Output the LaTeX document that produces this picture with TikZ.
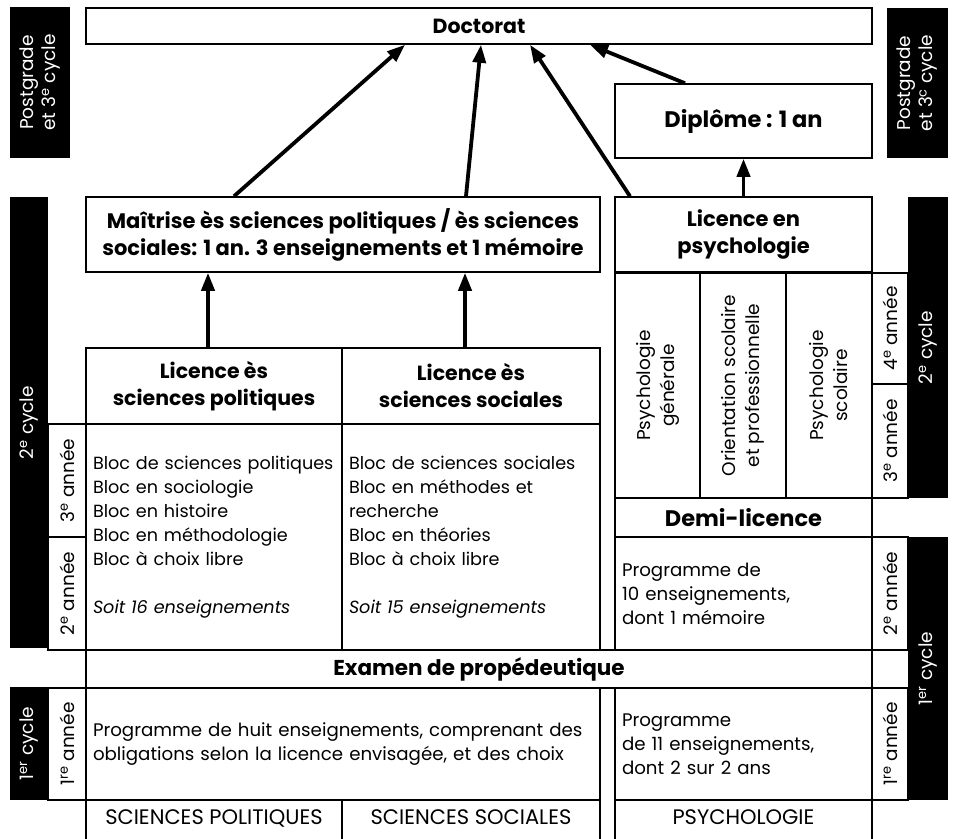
\documentclass[tikz,border=0pt]{standalone}
\usepackage{fontspec}
\setmainfont{Poppins}
\usetikzlibrary{arrows.meta}
\begin{document}
\begin{tikzpicture}[x=1pt,y=-1pt,
  box/.style={draw, line width=1.5pt, inner sep=0pt, align=center},
  txt/.style={font=\fontsize{18.2}{24}\selectfont},
  head/.style={font=\fontsize{21}{27}\selectfont\bfseries},
  lbox/.style={box, txt, align=left, inner xsep=7pt},
  capbox/.style={box, font=\fontsize{21}{24}\selectfont, minimum height=46pt, text height=14pt, text depth=11pt},
  bbar/.style={fill=black, text=white, inner sep=0pt, align=center, font=\fontsize{18.5}{22}\selectfont},
  yr/.style={box, font=\fontsize{18.5}{24}\selectfont, rotate=90},
  arr/.style={line width=3.8pt, -{Triangle[length=18pt,width=13pt]}}
]
\useasboundingbox (0,0) rectangle (955,838);
% top
\node[box, font=\fontsize{20.5}{24}\selectfont\bfseries, minimum width=786pt, minimum height=36pt] (doc) at (479,26) {Doctorat};
\node[box, font=\fontsize{22.5}{27}\selectfont\bfseries, minimum width=257pt, minimum height=74pt] (dipl) at (743.5,121) {Diplôme : 1 an};
\node[bbar, rotate=90, minimum width=151pt, minimum height=60pt] (lpost) at (40,82.5) {Postgrade\\et 3\textsuperscript{e} cycle};
\node[bbar, rotate=90, minimum width=150pt, minimum height=61pt] (rpost) at (917.5,83) {Postgrade\\et 3\textsuperscript{c} cycle};
% second level
\node[box, head, minimum width=514pt, minimum height=75pt] (mait) at (343,234.5) {Maîtrise ès sciences politiques / ès sciences\\sociales: 1 an. 3 enseignements et 1 mémoire};
\node[box, head, minimum width=257pt, minimum height=75pt] (lpsy) at (743.5,234.5) {Licence en\\psychologie};
% licences
\node[box, font=\fontsize{20.5}{27}\selectfont\bfseries, minimum width=256pt, minimum height=76pt] (lsp) at (214,386) {Licence ès\\sciences politiques};
\node[box, font=\fontsize{20.5}{27}\selectfont\bfseries, minimum width=258pt, minimum height=76pt] (lss) at (471,386) {Licence ès\\sciences sociales};
\node[lbox, font=\fontsize{17.6}{24}\selectfont, text width=242pt, minimum height=226pt] (bsp) at (214,537) {\mbox{Bloc de sciences politiques}\\Bloc en sociologie\\Bloc en histoire\\Bloc en méthodologie\\Bloc à choix libre\\[24pt]\textit{Soit 16 enseignements}};
\node[lbox, font=\fontsize{17.6}{24}\selectfont, text width=244pt, minimum height=226pt] (bss) at (471,537) {Bloc de sciences sociales\\Bloc en méthodes et\\recherche\\Bloc en théories\\Bloc à choix libre\\[24pt]\textit{Soit 15 enseignements}};
% psychology columns
\node[yr, minimum width=225pt, minimum height=85pt] (pgen) at (657.5,385.5) {Psychologie\\générale};
\node[yr, minimum width=225pt, minimum height=86pt] (porient) at (743,385.5) {Orientation scolaire\\et professionnelle};
\node[yr, minimum width=225pt, minimum height=86pt] (pscol) at (829,385.5) {Psychologie\\scolaire};
\node[box, font=\fontsize{22.5}{27}\selectfont\bfseries, minimum width=257pt, minimum height=39pt] (demi) at (743.5,517.5) {Demi-licence};
\node[lbox, text width=243pt, minimum height=113pt] (p10) at (743.5,593.5) {Programme de\\10 enseignements,\\dont 1 mémoire};
% examen
\node[box, font=\fontsize{21.5}{27}\selectfont\bfseries, minimum width=786pt, minimum height=38pt] (exam) at (479,669) {Examen de propédeutique};
\node[lbox, text width=500pt, minimum height=112pt] (huit) at (343,744) {Programme de huit enseignements, comprenant des\\obligations selon la licence envisagée, et des choix};
\node[lbox, text width=243pt, minimum height=112pt] (p11) at (743.5,744) {Programme\\de 11 enseignements,\\dont 2 sur 2 ans};
% bottom row
\node[capbox, minimum width=256pt] (sp) at (214,823) {SCIENCES POLITIQUES};
\node[capbox, minimum width=258pt] (ss) at (471,823) {SCIENCES SOCIALES};
\node[capbox, minimum width=257pt] (psy) at (743.5,823) {PSYCHOLOGIE};
% left year labels
\node[bbar, rotate=90, minimum width=451pt, minimum height=38pt] (l2c) at (29,422.5) {2\textsuperscript{e} cycle};
\node[bbar, rotate=90, minimum width=113pt, minimum height=38pt] (l1c) at (29,743.5) {1\textsuperscript{er} cycle};
\node[yr, minimum width=113pt, minimum height=38pt] (l3) at (67,480.5) {3\textsuperscript{e} année};
\node[yr, minimum width=113pt, minimum height=38pt] (l2) at (67,593.5) {2\textsuperscript{e} année};
\node[yr, minimum width=112pt, minimum height=38pt] (l1) at (67,744) {1\textsuperscript{re} année};
% right year labels
\node[bbar, rotate=90, minimum width=301pt, minimum height=40pt] (r2c) at (928,347.5) {2\textsuperscript{e} cycle};
\node[bbar, rotate=90, minimum width=263pt, minimum height=40pt] (r1c) at (928,668.5) {1\textsuperscript{er} cycle};
\node[yr, minimum width=111pt, minimum height=36pt] (r4) at (890,328.5) {4\textsuperscript{e} année};
\node[yr, minimum width=114pt, minimum height=36pt] (r3) at (890,441) {3\textsuperscript{e} année};
\node[yr, minimum width=113pt, minimum height=36pt] (r2) at (890,593.5) {2\textsuperscript{e} année};
\node[yr, minimum width=112pt, minimum height=36pt] (r1) at (890,744) {1\textsuperscript{re} année};
% arrows
\draw[arr] ([xshift=-109pt]mait.north) -- ([xshift=-74pt]doc.south);
\draw[arr] ([xshift=123pt]mait.north) -- ([xshift=2pt]doc.south);
\draw[arr] ([xshift=-113.5pt]lpsy.north) -- ([xshift=51pt]doc.south);
\draw[arr] ([xshift=-58.5pt]dipl.north) -- ([xshift=111pt]doc.south);
\draw[arr] (lpsy.north) -- (dipl.south);
\draw[arr] ([xshift=-6pt]lsp.north) -- ([xshift=-135pt]mait.south);
\draw[arr] ([xshift=-6pt]lss.north) -- ([xshift=122pt]mait.south);
\end{tikzpicture}
\end{document}
